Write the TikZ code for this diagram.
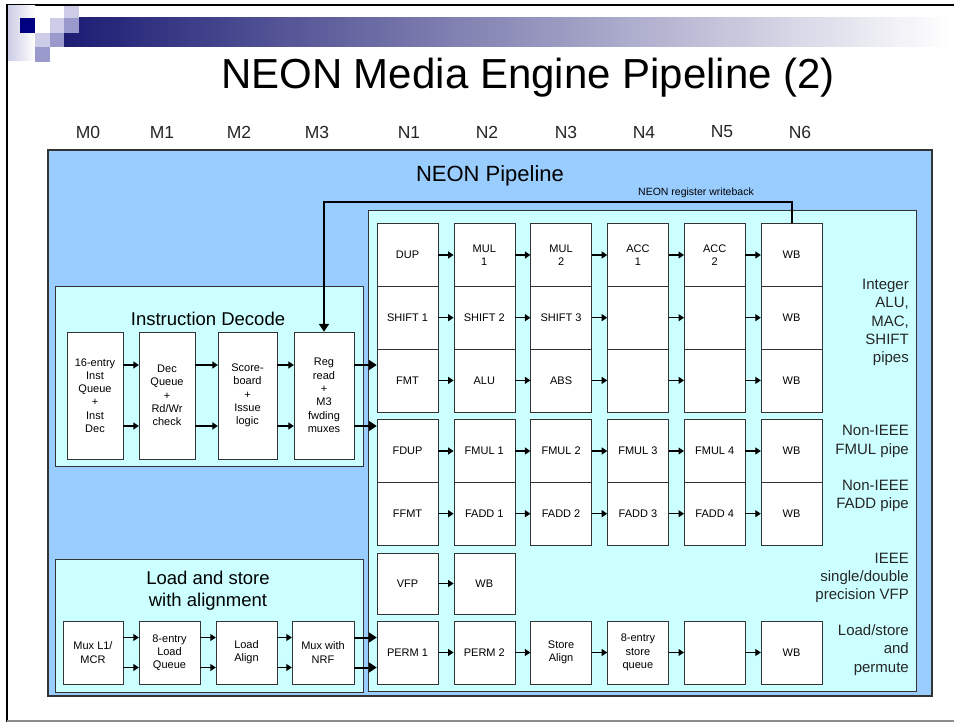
\documentclass[tikz,border=0pt]{standalone}
\usepackage{fontspec}
\setmainfont{Liberation Sans}
\usetikzlibrary{arrows.meta,positioning}

\definecolor{neonblue}{HTML}{99CCFF}
\definecolor{neoncyan}{HTML}{CCFFFF}
\definecolor{navy}{HTML}{000080}
\definecolor{lav}{HTML}{CCCCE6}
\definecolor{midlav}{HTML}{9999CC}
\definecolor{band}{HTML}{1C1C74}
\definecolor{edge}{HTML}{333333}

\newcommand{\boxfont}{\fontsize{11}{13.3}\selectfont}
\newcommand{\sidefont}{\fontsize{15}{18.3}\selectfont}

\begin{document}
\begin{tikzpicture}[x=1pt, y=-1pt, node distance=76.8pt, inner sep=0pt]
    \tikzstyle{stage}=[rectangle, draw=edge, fill=white, text=black, minimum width=61pt, minimum height=62.7pt, align=center, font=\boxfont]
    \tikzstyle{dec}=[rectangle, draw=edge, fill=white, text=black, minimum height=127pt, align=center, font=\boxfont]
    \tikzstyle{lsq}=[rectangle, draw=edge, fill=white, text=black, minimum height=63pt, align=center, font=\boxfont]
    \tikzstyle{region}=[draw=edge, fill=neoncyan, line width=0.9pt]
    \tikzstyle{side}=[align=right, anchor=east, text=black!85, font=\sidefont]
    \tikzstyle{stagehead}=[text=black!85, font=\fontsize{17.5}{20}\selectfont]
    \tikzstyle{arr}=[-{Triangle[length=5.5pt,width=7pt]}, line width=1.1pt]
    \tikzstyle{bigarr}=[-{Triangle[length=8pt,width=10pt]}, line width=2pt]

    \useasboundingbox (0,0) rectangle (954,722);

    % slide frame and title bar
    \draw[line width=2pt] (7,722) -- (7,5) -- (954,5);
    \draw[black!45, line width=1.2pt] (7,721) -- (954,721);
    \shade[left color=lav, right color=white] (8,6) rectangle (35,61);
    \shade[left color=band, right color=white] (64,18) rectangle (950,47);
    \fill[navy] (20,18) rectangle (35,33);
    \fill[lav] (35,33) rectangle (50,47);
    \fill[midlav] (35,47) rectangle (50,62);
    \fill[lav] (50,18) rectangle (64,33);
    \fill[midlav] (50,33) rectangle (64,47);
    \fill[lav] (64,6) rectangle (79,18);
    \fill[midlav] (64,18) rectangle (79,33);
    \node (title) at (528,78) {\fontsize{42}{48}\selectfont NEON Media Engine Pipeline (2)};

    % stage names
    \node[stagehead] (hM0) at (88,132) {M0};
    \node[stagehead] (hM1) at (162,132) {M1};
    \node[stagehead] (hM2) at (239,132) {M2};
    \node[stagehead] (hM3) at (317,132) {M3};
    \node[stagehead] (hN1) at (409,132) {N1};
    \node[stagehead] (hN2) at (487,132) {N2};
    \node[stagehead] (hN3) at (566,132) {N3};
    \node[stagehead] (hN4) at (644,132) {N4};
    \node[stagehead] (hN5) at (722,132) {N5};
    \node[stagehead] (hN6) at (800,132) {N6};

    % regions
    \draw[draw=edge, fill=neonblue, line width=1.4pt] (48,150) rectangle (932,696);
    \node (neon) at (490,176) {\fontsize{22}{24}\selectfont NEON Pipeline};
    \node (wbtext) at (696,193) {\fontsize{10.5}{12}\selectfont NEON register writeback};
    \draw[region] (368,210) rectangle (916,691);
    \draw[region] (55,286) rectangle (363,466);
    \draw[region] (55,559) rectangle (363,692);
    \node (decode) at (208,319) {\fontsize{18.5}{21}\selectfont Instruction Decode};
    \node[align=center, font=\fontsize{18.5}{22}\selectfont] (ldst) at (208,591) {Load and store\\with alignment};

    % instruction decode
    \node[dec, minimum width=56pt] (dec1) at (95,395.5) {16-entry\\Inst\\Queue\\+\\Inst\\Dec};
    \node[dec, minimum width=56pt] (dec2) at (167,395.5) {Dec\\Queue\\+\\Rd/Wr\\check};
    \node[dec, minimum width=59pt] (dec3) at (247.5,395.5) {Score-\\board\\+\\Issue\\logic};
    \node[dec, minimum width=60pt] (dec4) at (324,395.5) {Reg\\read\\+\\M3\\fwding\\muxes};

    % load and store
    \node[lsq, minimum width=60pt] (ls1) at (93,652.5) {Mux L1/\\MCR};
    \node[lsq, minimum width=61pt] (ls2) at (169.5,652.5) {8-entry\\Load\\Queue};
    \node[lsq, minimum width=61pt] (ls3) at (246.5,652.5) {Load\\Align};
    \node[lsq, minimum width=62pt] (ls4) at (323,652.5) {Mux with\\NRF};

    % integer pipes
    \node[stage] (dup) at (407.5,255) {DUP};
    \node[stage] (mul1) [right of=dup] {MUL\\1};
    \node[stage] (mul2) [right of=mul1] {MUL\\2};
    \node[stage] (acc1) [right of=mul2] {ACC\\1};
    \node[stage] (acc2) [right of=acc1] {ACC\\2};
    \node[stage] (wb1) [right of=acc2] {WB};
    \node[stage] (shift1) at (407.5,317.7) {SHIFT 1};
    \node[stage] (shift2) [right of=shift1] {SHIFT 2};
    \node[stage] (shift3) [right of=shift2] {SHIFT 3};
    \node[stage] (sh4) [right of=shift3] {};
    \node[stage] (sh5) [right of=sh4] {};
    \node[stage] (wb2) [right of=sh5] {WB};
    \node[stage] (fmt) at (407.5,380.4) {FMT};
    \node[stage] (alu) [right of=fmt] {ALU};
    \node[stage] (abs) [right of=alu] {ABS};
    \node[stage] (al4) [right of=abs] {};
    \node[stage] (al5) [right of=al4] {};
    \node[stage] (wb3) [right of=al5] {WB};

    % non-IEEE float pipes
    \node[stage] (fdup) at (407.5,451) {FDUP};
    \node[stage] (fmul1) [right of=fdup] {FMUL 1};
    \node[stage] (fmul2) [right of=fmul1] {FMUL 2};
    \node[stage] (fmul3) [right of=fmul2] {FMUL 3};
    \node[stage] (fmul4) [right of=fmul3] {FMUL 4};
    \node[stage] (wb4) [right of=fmul4] {WB};
    \node[stage] (ffmt) at (407.5,513.7) {FFMT};
    \node[stage] (fadd1) [right of=ffmt] {FADD 1};
    \node[stage] (fadd2) [right of=fadd1] {FADD 2};
    \node[stage] (fadd3) [right of=fadd2] {FADD 3};
    \node[stage] (fadd4) [right of=fadd3] {FADD 4};
    \node[stage] (wb5) [right of=fadd4] {WB};

    % VFP and permute
    \node[stage, minimum height=61pt] (vfp) at (407.5,583.5) {VFP};
    \node[stage, minimum height=61pt] (wb6) [right of=vfp] {WB};
    \node[stage, minimum height=63pt] (perm1) at (407.5,652.5) {PERM 1};
    \node[stage, minimum height=63pt] (perm2) [right of=perm1] {PERM 2};
    \node[stage, minimum height=63pt] (stal) [right of=perm2] {Store\\Align};
    \node[stage, minimum height=63pt] (stq) [right of=stal] {8-entry\\store\\queue};
    \node[stage, minimum height=63pt] (pm5) [right of=stq] {};
    \node[stage, minimum height=63pt] (wb7) [right of=pm5] {WB};

    % pipe names
    \node[side] (intlab) at (909,322.5) {Integer\\ALU,\\MAC,\\SHIFT\\pipes};
    \node[side] (fmullab) at (909,441.5) {Non-IEEE\\FMUL pipe};
    \node[side] (faddlab) at (909,496) {Non-IEEE\\FADD pipe};
    \node[side] (vfplab) at (909,578) {IEEE\\single/double\\precision VFP};
    \node[side] (permlab) at (909,650) {Load/store\\and\\permute};

    % decode arrows
    \draw[arr] ([yshift=30.5pt] dec1.east) -- ([yshift=30.5pt] dec2.west);
    \draw[arr] ([yshift=-30.5pt] dec1.east) -- ([yshift=-30.5pt] dec2.west);
    \draw[arr] ([yshift=30.5pt] dec2.east) -- ([yshift=30.5pt] dec3.west);
    \draw[arr] ([yshift=-30.5pt] dec2.east) -- ([yshift=-30.5pt] dec3.west);
    \draw[arr] ([yshift=30.5pt] dec3.east) -- ([yshift=30.5pt] dec4.west);
    \draw[arr] ([yshift=-30.5pt] dec3.east) -- ([yshift=-30.5pt] dec4.west);
    \draw[bigarr] ([yshift=30.5pt] dec4.east) -- ([yshift=30.5pt] dec4.east -| fmt.west);
    \draw[bigarr] ([yshift=-30.5pt] dec4.east) -- ([yshift=-30.5pt] dec4.east -| fdup.west);

    % load/store arrows
    \draw[arr] ([yshift=15pt] ls1.east) -- ([yshift=15pt] ls2.west);
    \draw[arr] ([yshift=-15pt] ls1.east) -- ([yshift=-15pt] ls2.west);
    \draw[arr] ([yshift=15pt] ls2.east) -- ([yshift=15pt] ls3.west);
    \draw[arr] ([yshift=-15pt] ls2.east) -- ([yshift=-15pt] ls3.west);
    \draw[arr] ([yshift=15pt] ls3.east) -- ([yshift=15pt] ls4.west);
    \draw[arr] ([yshift=-15pt] ls3.east) -- ([yshift=-15pt] ls4.west);
    \draw[bigarr] ([yshift=15pt] ls4.east) -- ([yshift=15pt] ls4.east -| perm1.west);
    \draw[bigarr] ([yshift=-15pt] ls4.east) -- ([yshift=-15pt] ls4.east -| perm1.west);

    % pipe arrows
    \draw[arr] (dup) -- (mul1); \draw[arr] (mul1) -- (mul2); \draw[arr] (mul2) -- (acc1);
    \draw[arr] (acc1) -- (acc2); \draw[arr] (acc2) -- (wb1);
    \draw[arr] (shift1) -- (shift2); \draw[arr] (shift2) -- (shift3); \draw[arr] (shift3) -- (sh4);
    \draw[arr] (sh4) -- (sh5); \draw[arr] (sh5) -- (wb2);
    \draw[arr] (fmt) -- (alu); \draw[arr] (alu) -- (abs); \draw[arr] (abs) -- (al4);
    \draw[arr] (al4) -- (al5); \draw[arr] (al5) -- (wb3);
    \draw[arr] (fdup) -- (fmul1); \draw[arr] (fmul1) -- (fmul2); \draw[arr] (fmul2) -- (fmul3);
    \draw[arr] (fmul3) -- (fmul4); \draw[arr] (fmul4) -- (wb4);
    \draw[arr] (ffmt) -- (fadd1); \draw[arr] (fadd1) -- (fadd2); \draw[arr] (fadd2) -- (fadd3);
    \draw[arr] (fadd3) -- (fadd4); \draw[arr] (fadd4) -- (wb5);
    \draw[arr] (vfp) -- (wb6);
    \draw[arr] (perm1) -- (perm2); \draw[arr] (perm2) -- (stal); \draw[arr] (stal) -- (stq);
    \draw[arr] (stq) -- (pm5); \draw[arr] (pm5) -- (wb7);

    % register writeback
    \coordinate (wbtop) at (0,202);
    \draw[bigarr] (wb1.north) -- (wb1.north |- wbtop) -| (dec4.north);
\end{tikzpicture}
\end{document}
